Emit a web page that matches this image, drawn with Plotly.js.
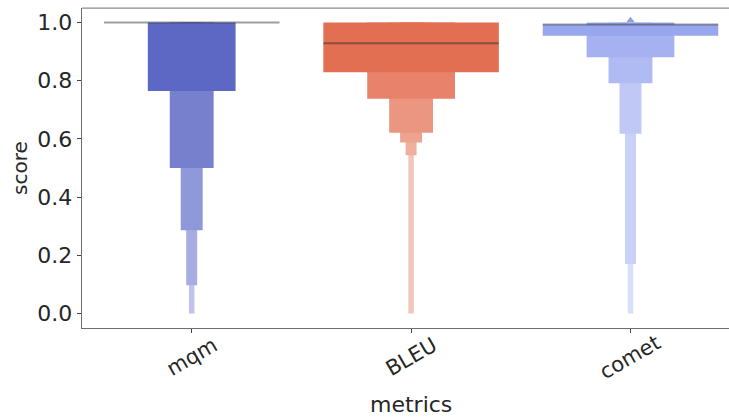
<!DOCTYPE html>
<html>
<head>
<meta charset="utf-8">
<script src="https://cdn.plot.ly/plotly-3.0.1.min.js"></script>
<style>html,body{margin:0;padding:0;overflow:hidden;background:#fff}</style>
</head>
<body>
<div id="chart" style="width:729px;height:417px"></div>
<script>
// Categories
const categories = ["mqm", "BLEU", "comet"];
// Letter-value box bounds per level (level 0 = innermost/widest), per category
const mqmLower   = [1.000, 0.765, 0.500, 0.286, 0.097, 0.000];
const mqmUpper   = [1.000, 1.000, 1.000, 1.000, 1.000, 1.000];
const bleuLower  = [0.829, 0.738, 0.621, 0.588, 0.544, 0.000];
const bleuUpper  = [1.000, 1.000, 1.000, 1.000, 1.000, 1.000];
const cometLower = [0.955, 0.881, 0.791, 0.618, 0.170, 0.000];
const cometUpper = [0.993, 1.000, 1.000, 1.000, 1.000, 1.000];
const medians    = [1.000, 0.929, 0.993];
const outlierCat = ["comet"];
const outlierVal = [1.008];
const yTickVals  = [0.0, 0.2, 0.4, 0.6, 0.8, 1.0];
const yTickText  = ["0.0", "0.2", "0.4", "0.6", "0.8", "1.0"];

// Styles
const levelColors = [
  ["#4e5bbd", "#e36f52", "#98a6ee"],
  ["#5c68c4", "#e8826b", "#a5b1f1"],
  ["#7680cd", "#eb9680", "#b0bbf3"],
  ["#8f98d8", "#eea38f", "#c0c9f5"],
  ["#a7ade1", "#f0b09f", "#cad1f6"],
  ["#bec3eb", "#f4c6bb", "#d9def9"]
];
const textColor = "#262626";
const font = "DejaVu Sans, sans-serif";

const lowers = [mqmLower, bleuLower, cometLower];
const uppers = [mqmUpper, bleuUpper, cometUpper];
const xs = categories.map((c, i) => i);
const nLevels = mqmLower.length;

const traces = [];
// narrowest first, widest last (on top)
for (let k = nLevels - 1; k >= 0; k--) {
  const w = 0.8 / Math.pow(2, k);
  traces.push({
    type: "bar",
    x: xs,
    base: lowers.map(l => l[k]),
    y: lowers.map((l, i) => uppers[i][k] - l[k]),
    width: xs.map(() => w),
    marker: {color: levelColors[k], line: {width: 0}},
    hoverinfo: "skip",
    showlegend: false
  });
}
// outlier
traces.push({
  type: "scatter", mode: "markers",
  x: outlierCat.map(c => categories.indexOf(c)),
  y: outlierVal,
  marker: {symbol: "triangle-up", size: 7, color: "#8f9de6"},
  hoverinfo: "skip", showlegend: false
});
// median lines
categories.forEach((c, i) => {
  traces.push({
    type: "scatter", mode: "lines",
    x: [i - 0.4, i + 0.4],
    y: [medians[i], medians[i]],
    line: {color: "rgba(38,38,38,0.45)", width: 2},
    hoverinfo: "skip", showlegend: false
  });
});

const annotations = categories.map((c, i) => ({
  text: c, x: i, xref: "x", y: 0, yref: "paper",
  xanchor: "center", yanchor: "middle", yshift: -29,
  textangle: -30, showarrow: false,
  font: {family: font, size: 21, color: textColor}
}));
annotations.push({
  text: "metrics", x: 1, xref: "x", y: 0, yref: "paper",
  xanchor: "center", yanchor: "middle", yshift: -76, showarrow: false,
  font: {family: font, size: 22, color: textColor}
});
annotations.push({
  text: "score", x: 0, xref: "paper", y: 0.5, yref: "paper",
  xanchor: "center", yanchor: "middle", xshift: -62, textangle: -90, showarrow: false,
  font: {family: font, size: 20, color: textColor}
});

const layout = {
  width: 729, height: 417,
  margin: {l: 82, r: 0, t: 8, b: 89},
  paper_bgcolor: "#fff", plot_bgcolor: "#fff",
  barmode: "overlay",
  showlegend: false,
  xaxis: {
    range: [-0.5, 2.449], tickvals: xs, showticklabels: false,
    ticks: "outside", ticklen: 4, tickcolor: "#444", tickwidth: 1,
    showline: true, mirror: false, linecolor: "#6e6e6e", linewidth: 1.25,
    showgrid: false, zeroline: false, fixedrange: true
  },
  yaxis: {
    range: [-0.05, 1.05], tickvals: yTickVals, ticktext: yTickText,
    ticks: "outside", ticklen: 4, tickcolor: "#444", tickwidth: 1,
    ticklabelstandoff: 0,
    tickfont: {family: font, size: 22, color: textColor},
    showline: true, mirror: false, linecolor: "#6e6e6e", linewidth: 1.25,
    showgrid: false, zeroline: false, fixedrange: true
  },
  shapes: [{
    type: "line", xref: "paper", yref: "paper", x0: 0, x1: 1, y0: 1, y1: 1,
    line: {color: "#8a8a8a", width: 1.25}, layer: "below"
  }],
  annotations: annotations
};

Plotly.newPlot("chart", traces, layout, {displayModeBar: false, staticPlot: true});
</script>
</body>
</html>
